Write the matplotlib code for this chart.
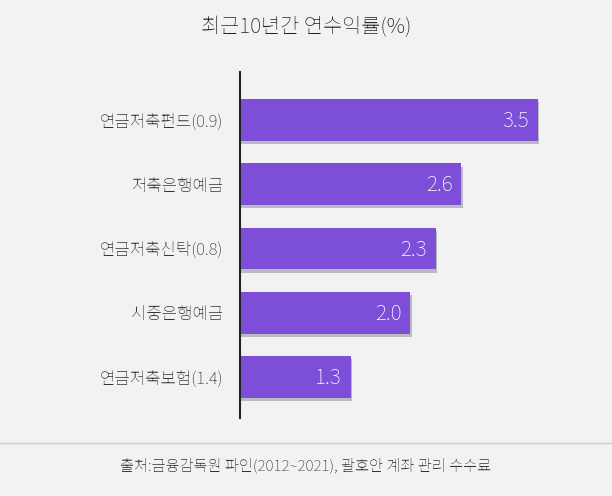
import matplotlib
matplotlib.use("Agg")
from matplotlib import pyplot as plt
from matplotlib import font_manager

# find a CJK font file that has Hangul
fam = "DejaVu Sans"
for f in font_manager.findSystemFonts():
    if "NotoSansCJK" in f.replace(" ", "") or "NotoSansKR" in f:
        try:
            font_manager.fontManager.addfont(f)
            fam = font_manager.FontProperties(fname=f).get_name()
            if "KR" in f:
                break
        except Exception:
            pass
plt.rcParams["font.family"] = [fam, "Noto Sans CJK JP", "DejaVu Sans"]

categories = ["연금저축펀드(0.9)", "저축은행예금", "연금저축신탁(0.8)", "시중은행예금", "연금저축보험(1.4)"]
values = [3.5, 2.6, 2.3, 2.0, 1.3]
title = "최근10년간 연수익률(%)"
source = "출처:금융감독원 파인(2012~2021), 괄호안 계좌 관리 수수료"

bg = "#f2f2f2"
purple = "#7d4fd9"

fig = plt.figure(figsize=(6.12, 4.96), dpi=100, facecolor=bg)
ax = fig.add_axes([240 / 612, 1 - 418 / 496, 360 / 612, 346 / 496], facecolor=bg)

ypos = list(range(len(categories)))
# shadow
ax.barh([y + 0.05 for y in ypos], [v + 0.02 for v in values], height=0.65, color="#bbbbbb", zorder=1)
ax.barh(ypos, values, height=0.65, color=purple, zorder=2)
for y, v in zip(ypos, values):
    ax.text(v - 0.1, y + 0.02, f"{v:.1f}", color="white", fontsize=15, ha="right", va="center", zorder=3)

ax.set_xlim(0, 360 / 85)
ax.set_ylim(4.64, -0.75)
ax.set_yticks(ypos)
ax.set_yticklabels(categories, fontsize=12, color="#333333")
ax.set_xticks([])
ax.tick_params(axis="y", length=0, pad=12)
for s in ["top", "right", "bottom"]:
    ax.spines[s].set_visible(False)
ax.spines["left"].set_color("#222222")
ax.spines["left"].set_linewidth(1.5)

fig.text(0.5, 1 - 27 / 496, title, ha="center", va="center", fontsize=15, fontweight="bold", color="#222222")
fig.add_artist(plt.Line2D([0, 1], [1 - 443 / 496] * 2, color="#cccccc", linewidth=1))
fig.text(0.5, 1 - 466 / 496, source, ha="center", va="center", fontsize=11, color="#333333")

fig.savefig("out.png", dpi=100, facecolor=bg)
